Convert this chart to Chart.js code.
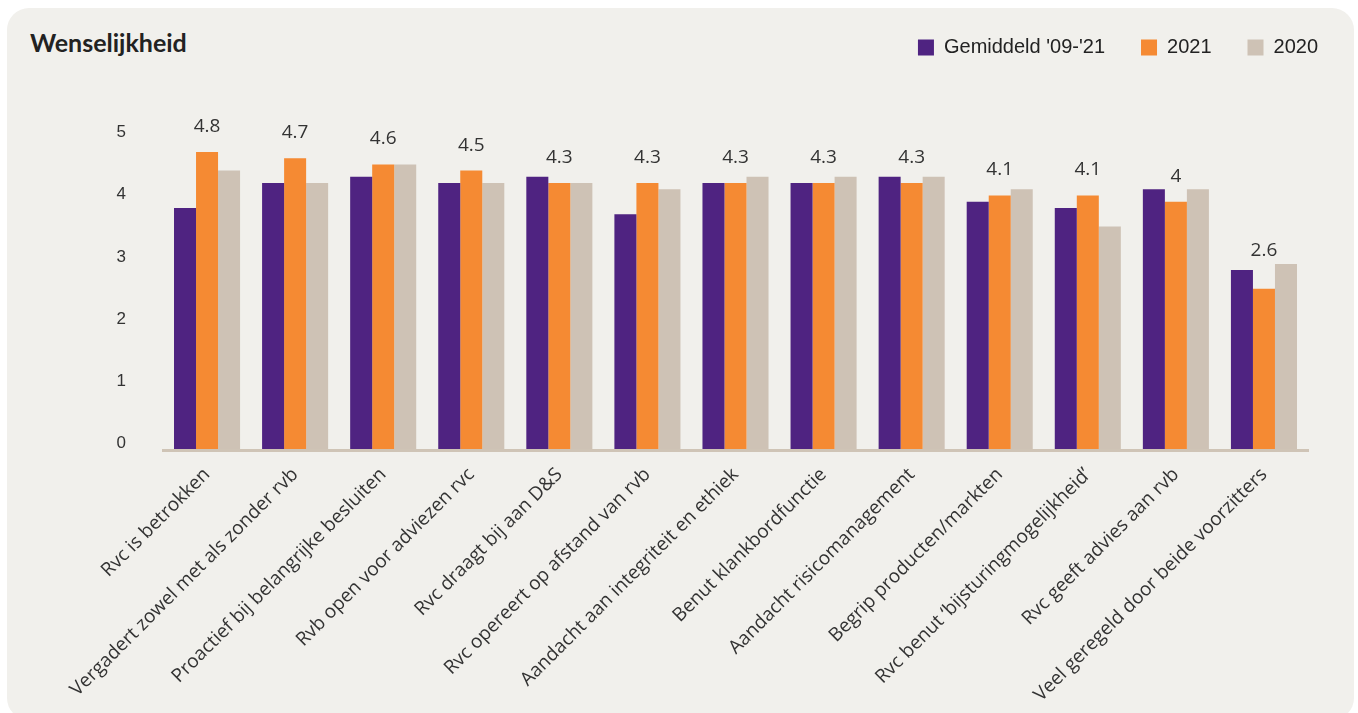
<!DOCTYPE html>
<html lang="nl">
<head>
<meta charset="utf-8">
<title>Wenselijkheid</title>
<script src="https://cdn.jsdelivr.net/npm/chart.js@4.4.1/dist/chart.umd.min.js"></script>
<style>
    html, body {
        margin: 0;
        padding: 0;
        background: #ffffff;
    }
    .kaart {
        position: absolute;
        left: 7px;
        top: 8px;
        width: 1347px;
        height: 712px;
        background: #f1f0ec;
        border-radius: 22px;
    }
    .titel {
        position: absolute;
        left: 30px;
        top: 30px;
        font-family: Lato, sans-serif;
        font-weight: 700;
        font-size: 25px;
        line-height: 25px;
        color: #222222;
    }
    .grafiek {
        position: absolute;
        left: 0;
        top: 0;
        width: 1358px;
        height: 713px;
    }
</style>
</head>
<body>
<div class="kaart"></div>
<div class="titel">Wenselijkheid</div>
<div class="grafiek"><canvas id="graficoWenselijkheid"></canvas></div>

<script>
// Stellingen op de x-as
const categorieen = [
    'Rvc is betrokken',
    'Vergadert zowel met als zonder rvb',
    'Proactief bij belangrijke besluiten',
    'Rvb open voor adviezen rvc',
    'Rvc draagt bij aan D&S',
    'Rvc opereert op afstand van rvb',
    'Aandacht aan integriteit en ethiek',
    'Benut klankbordfunctie',
    'Aandacht risicomanagement',
    'Begrip producten/markten',
    'Rvc benut \u2018bijsturingmogelijkheid\u2019',
    'Rvc geeft advies aan rvb',
    'Veel geregeld door beide voorzitters'
];

// Scores per reeks
const gemiddeld = [3.9, 4.3, 4.4, 4.3, 4.4, 3.8, 4.3, 4.3, 4.4, 4.0, 3.9, 4.2, 2.9];
const score2021 = [4.8, 4.7, 4.6, 4.5, 4.3, 4.3, 4.3, 4.3, 4.3, 4.1, 4.1, 4.0, 2.6];
const score2020 = [4.5, 4.3, 4.6, 4.3, 4.3, 4.2, 4.4, 4.4, 4.4, 4.2, 3.6, 4.2, 3.0];

const reeksNamen = ["Gemiddeld '09-'21", '2021', '2020'];
const yTicks = [0, 1, 2, 3, 4, 5];

const kleuren = {
    paars: '#4f2381',
    oranje: '#f58a33',
    beige: '#cec2b5',
    tekst: '#333333',
    as: '#cfc4b6'
};

// Extra ruimte onder de legenda
const legendaRuimte = {
    id: 'legendaRuimte',
    beforeInit(chart) {
        const origFit = chart.legend.fit;
        chart.legend.fit = function () {
            origFit.bind(chart.legend)();
            this.height += 72;
        };
    }
};

// Waarde van 2021 boven elke groep, nooit over een hogere balk heen
const waardeLabels = {
    id: 'waardeLabels',
    afterDatasetsDraw(chart) {
        const ctx = chart.ctx;
        const meta = chart.getDatasetMeta(1);
        const y = chart.scales.y;
        ctx.save();
        ctx.font = '19px "Open Sans", sans-serif';
        ctx.fillStyle = kleuren.tekst;
        ctx.textAlign = 'center';
        ctx.textBaseline = 'middle';
        score2021.forEach((v, i) => {
            const bar = meta.data[i];
            const hoogste = Math.max(gemiddeld[i], v, score2020[i]);
            const py = Math.min(y.getPixelForValue(v + 0.41), y.getPixelForValue(hoogste) - 13);
            ctx.fillText(String(v), bar.x, py);
        });
        ctx.restore();
    }
};

function maakGrafiek() {
    const ctx = document.getElementById('graficoWenselijkheid').getContext('2d');

    new Chart(ctx, {
        type: 'bar',
        data: {
            labels: categorieen,
            datasets: [
                { label: reeksNamen[0], data: gemiddeld, backgroundColor: kleuren.paars },
                { label: reeksNamen[1], data: score2021, backgroundColor: kleuren.oranje },
                { label: reeksNamen[2], data: score2020, backgroundColor: kleuren.beige }
            ]
        },
        options: {
            responsive: true,
            maintainAspectRatio: false,
            animation: false,
            datasets: {
                bar: {
                    categoryPercentage: 0.75,
                    barPercentage: 1.0
                }
            },
            layout: {
                padding: { top: 1.5, right: 4, bottom: 0, left: 0 }
            },
            plugins: {
                title: { display: false },
                tooltip: { enabled: false },
                legend: {
                    position: 'top',
                    align: 'end',
                    labels: {
                        boxWidth: 16,
                        boxHeight: 16,
                        padding: 36,
                        color: '#222222',
                        font: { family: '"Liberation Sans", Arial, sans-serif', size: 20 }
                    }
                }
            },
            scales: {
                x: {
                    grid: { display: false, drawTicks: false },
                    border: { display: true, color: kleuren.as, width: 3, z: 1 },
                    ticks: {
                        autoSkip: false,
                        minRotation: 45,
                        maxRotation: 45,
                        padding: 13,
                        color: kleuren.tekst,
                        font: { family: '"Open Sans", sans-serif', size: 19 }
                    },
                    afterFit(scale) {
                        scale.height = 262.5;
                    }
                },
                y: {
                    min: 0,
                    max: 5,
                    grid: { display: false, drawTicks: false },
                    border: { display: false },
                    afterBuildTicks(scale) {
                        scale.ticks = yTicks.map(v => ({ value: v }));
                    },
                    ticks: {
                        padding: 37,
                        labelOffset: -7,
                        color: kleuren.tekst,
                        font: { family: '"Liberation Sans", Arial, sans-serif', size: 17 }
                    },
                    afterFit(scale) {
                        scale.width = 163;
                    }
                },
                rechts: {
                    position: 'right',
                    display: true,
                    grid: { display: false, drawTicks: false },
                    border: { display: false },
                    ticks: { display: false },
                    afterFit(scale) {
                        scale.width = 46;
                    }
                }
            }
        },
        plugins: [legendaRuimte, waardeLabels]
    });
}

document.addEventListener('DOMContentLoaded', () => {
    maakGrafiek();
});
</script>
</body>
</html>
